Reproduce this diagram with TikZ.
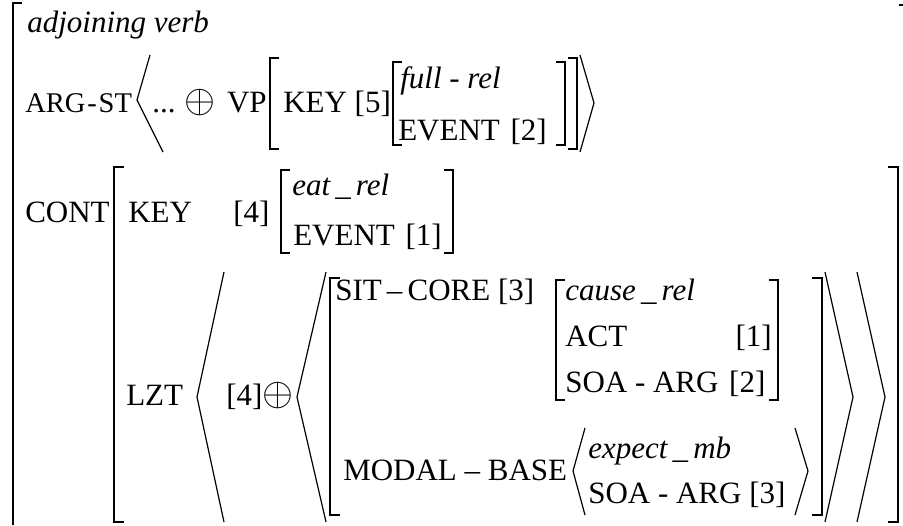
\documentclass[tikz,border=0pt]{standalone}
\usepackage{fontspec}
\setmainfont{Liberation Serif}
\newcommand{\fs}{\fontsize{23.25}{28}\selectfont}
\newcommand{\bop}{\raisebox{-0.5pt}{\scalebox{1.2}{$\oplus$}}}
\newcommand{\gap}{\kern 8pt}
\begin{document}
\begin{tikzpicture}[x=0.75pt,y=-0.75pt,
  lt/.style={anchor=base west,inner sep=0pt,font=\fs},
  rt/.style={anchor=base east,inner sep=0pt,font=\fs},
  it/.style={lt,font=\fs\itshape},
  sq/.style={line width=1.3pt,line cap=butt},
  ang/.style={line width=0.9pt,line join=miter}]
\useasboundingbox (0,0) rectangle (903,525);
% outer bracket
\draw[sq] (22,3) -- (13,3) -- (13,525);
\draw[sq] (899,5) -- (903,5);
\node[it] (adj) at (27,32) {adjoining verb};
% ARG-ST row
\node[lt] (argst) at (25,112) {\scalebox{0.92}{ARG\kern1.5pt-\kern1.5pt ST}};
\draw[ang] (150,55) -- (137,100) -- (163,152);
\node[lt] (dots) at (152,112) {...};
\node[lt] (op1) at (184,112) {\bop};
\node[rt] (vp) at (267,112) {VP};
\draw[sq] (279,58) -- (270,58) -- (270,149) -- (279,149);
\node[lt] (key5) at (283,112) {KEY [5]};
\draw[sq] (402,62) -- (393,62) -- (393,145) -- (402,145);
\node[it] (full) at (400,88) {full - rel};
\node[lt] (ev2) at (398,140) {EVENT\gap[2]};
\draw[sq] (556,62) -- (565,62) -- (565,145) -- (556,145);
\draw[sq] (568,58) -- (577,58) -- (577,149) -- (568,149);
\draw[ang] (580,55) -- (594,103) -- (580,152);
% CONT
\node[lt] (cont) at (25,222) {CONT};
\draw[sq] (124,167) -- (114,167) -- (114,522) -- (124,522);
\draw[sq] (888,167) -- (898,167) -- (898,522) -- (888,522);
\node[lt] (key4) at (128,222) {KEY};
\node[lt] (n4a) at (233,222) {[4]};
\draw[sq] (290,170) -- (281,170) -- (281,253) -- (290,253);
\node[it] (eat) at (292,195) {eat\,\_\,rel};
\node[lt] (ev1) at (293,245) {EVENT\gap[1]};
\draw[sq] (444,170) -- (453,170) -- (453,253) -- (444,253);
% LZT
\node[lt] (lzt) at (126,405) {LZT};
\draw[ang] (224,272) -- (197,397) -- (224,522);
\node[lt] (n4b) at (226,405) {[4]\bop};
\draw[ang] (326,272) -- (297,397) -- (326,522);
\draw[sq] (340,278) -- (330,278) -- (330,515) -- (340,515);
\node[lt] (sit) at (335,300) {SIT\,--\,CORE [3]};
\draw[sq] (565,280) -- (556,280) -- (556,400) -- (565,400);
\node[it] (cause) at (565,300) {cause\,\_\,rel};
\node[lt] (act) at (565,346) {ACT};
\node[rt] (n1) at (772,346) {[1]};
\node[lt] (soa2) at (565,392) {SOA - ARG\gap[2]};
\draw[sq] (769,280) -- (778,280) -- (778,400) -- (769,400);
\node[lt] (modal) at (343,480) {MODAL -- BASE};
\draw[ang] (585,428) -- (573,471) -- (585,515);
\node[it] (expect) at (588,458) {expect\,\_\,mb};
\node[lt] (soa3) at (588,503) {SOA - ARG [3]};
\draw[ang] (795,428) -- (808,471) -- (795,515);
\draw[sq] (812,278) -- (822,278) -- (822,515) -- (812,515);
\draw[ang] (825,272) -- (853,397) -- (825,522);
\draw[ang] (857,272) -- (885,397) -- (857,522);
\end{tikzpicture}
\end{document}
